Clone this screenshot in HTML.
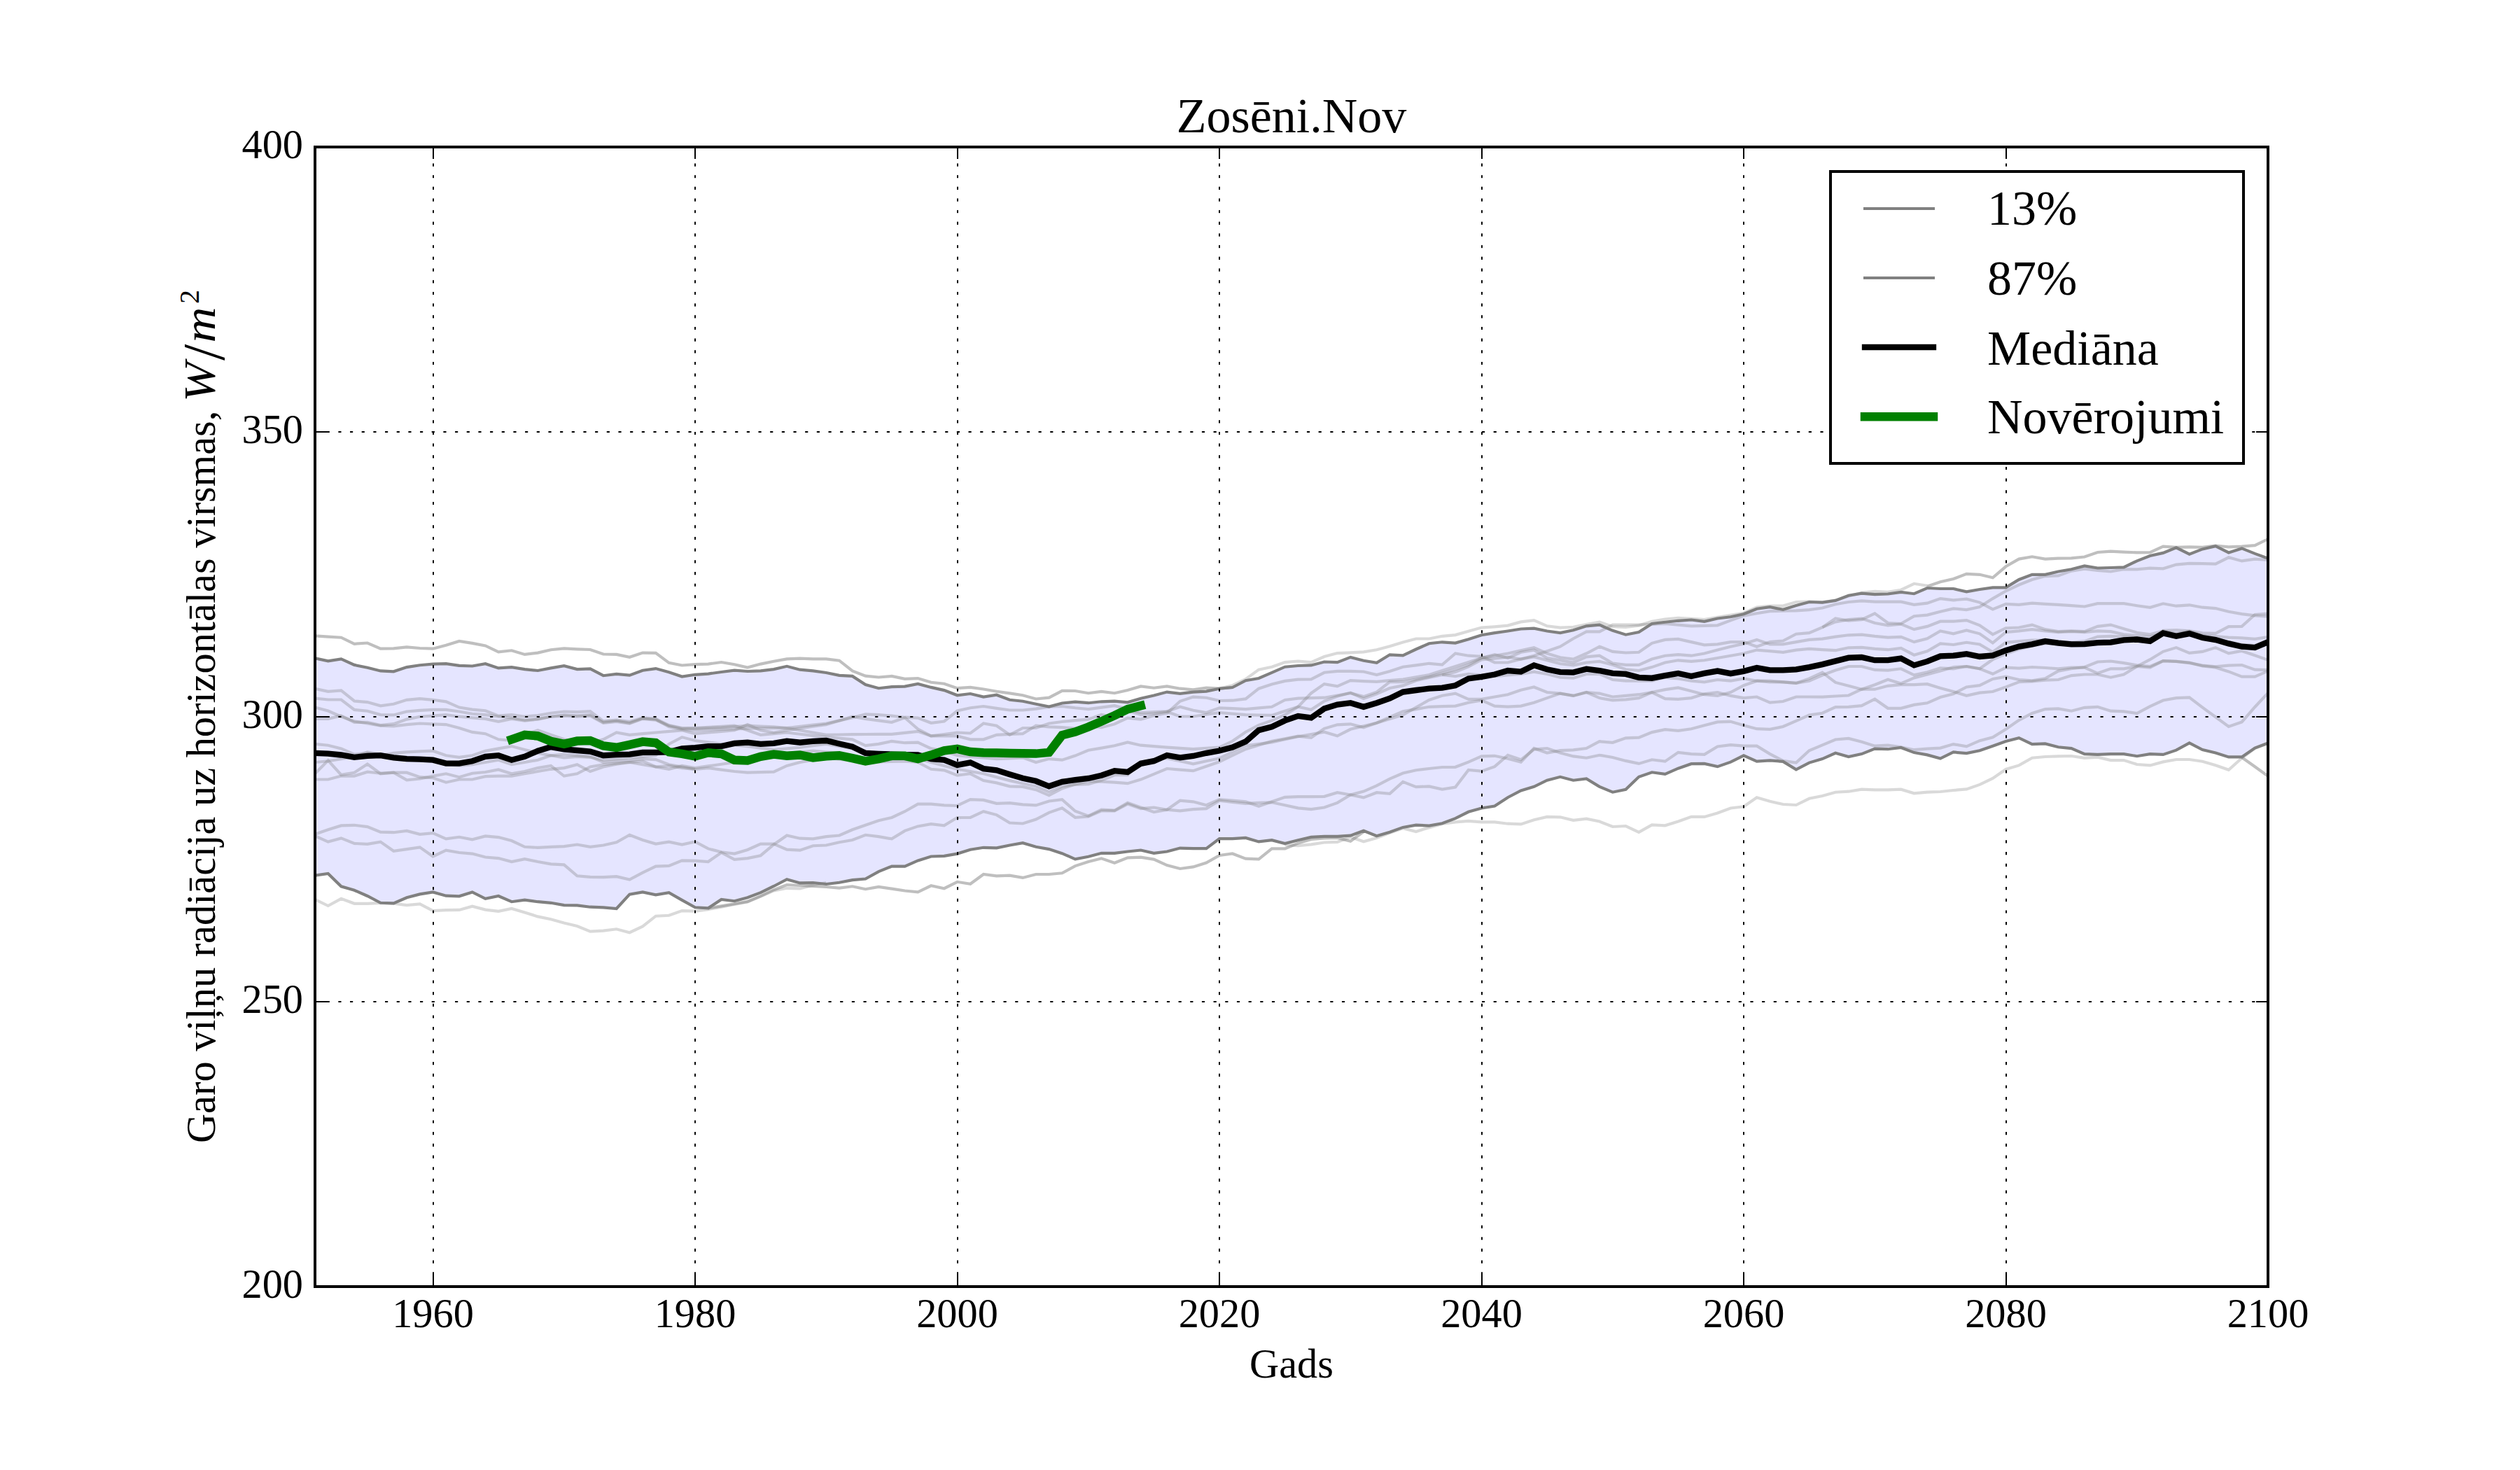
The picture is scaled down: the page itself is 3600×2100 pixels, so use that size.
<!DOCTYPE html>
<html lang="lv"><head><meta charset="utf-8"><title>Zosēni.Nov</title>
<style>html,body{margin:0;padding:0;background:#fff}svg{display:block}</style>
</head><body>
<svg width="3600" height="2100" viewBox="0 0 3600 2100">
<defs><clipPath id="ax"><rect x="450.0" y="210.0" width="2790.0" height="1627.5"/></clipPath></defs>
<rect width="3600" height="2100" fill="#fff"/>
<g clip-path="url(#ax)" fill="none" stroke-linejoin="miter" stroke-linecap="square">
<path d="M450 940.4 L468.7 944.3 L487.4 941.4 L506.2 949.9 L524.9 953.8 L543.6 958.4 L562.3 959.3 L581.1 953.1 L599.8 950.2 L618.5 948.6 L637.2 948.2 L656 950.9 L674.7 951.5 L693.4 948.2 L712.1 954.4 L730.9 953.1 L749.6 956.1 L768.3 958 L787 954.4 L805.8 951.2 L824.5 956.1 L843.2 955.4 L861.9 965.2 L880.7 962.9 L899.4 964.6 L918.1 957.7 L936.8 955.1 L955.6 960.3 L974.3 966.5 L993 963.8 L1011.7 962.6 L1030.5 960 L1049.2 957.7 L1067.9 959 L1086.6 958.4 L1105.4 956.1 L1124.1 951.8 L1142.8 956.7 L1161.5 958.4 L1180.3 961 L1199 964.9 L1217.7 965.9 L1236.4 978 L1255.2 983.2 L1273.9 981.2 L1292.6 980.6 L1311.3 977 L1330.1 981.9 L1348.8 986.1 L1367.5 993.3 L1386.2 991 L1405 995.6 L1423.7 992.7 L1442.4 999.8 L1461.1 1001.8 L1479.9 1005.7 L1498.6 1009.6 L1517.3 1004.5 L1536 1002.7 L1554.8 1004.2 L1573.5 1002.3 L1592.2 1001.6 L1610.9 1003.3 L1629.7 997.7 L1648.4 993.5 L1667.1 988.6 L1685.8 990.9 L1704.6 988.6 L1723.3 987.6 L1742 983.7 L1760.7 982 L1779.5 972.2 L1798.2 969 L1816.9 960.8 L1835.6 952.7 L1854.4 951 L1873.1 950.4 L1891.8 945.5 L1910.5 946.1 L1929.3 938.9 L1948 943.8 L1966.7 946.8 L1985.4 935.3 L2004.2 936.3 L2022.9 927.5 L2041.6 919.3 L2060.3 917.3 L2079.1 918.6 L2097.8 913.2 L2116.5 907.3 L2135.2 904.1 L2154 901.5 L2172.7 898.5 L2191.4 897.6 L2210.1 901.5 L2228.9 904.1 L2247.6 900.2 L2266.3 894.3 L2285 892.7 L2303.8 900.8 L2322.5 906.7 L2341.2 903.1 L2359.9 891 L2378.7 888.7 L2397.4 886.8 L2416.1 885.5 L2434.8 887.8 L2453.6 883.5 L2472.3 881.2 L2491 877.3 L2509.7 869.8 L2528.5 867.2 L2547.2 870.8 L2565.9 864.9 L2584.6 860 L2603.4 860.6 L2622.1 857.9 L2640.8 850.8 L2659.5 847.6 L2678.3 849.2 L2697 848.5 L2715.7 845.9 L2734.4 848.2 L2753.2 840 L2771.9 841 L2790.6 841 L2809.3 845.3 L2828.1 842 L2846.8 839.4 L2865.5 839.4 L2884.2 828 L2903 820.8 L2921.7 820.8 L2940.4 816.5 L2959.1 813.2 L2977.9 808.5 L2996.6 811.5 L3015.3 811 L3034 810.4 L3052.8 801.3 L3071.5 794 L3090.2 789.9 L3108.9 782.3 L3127.7 791.7 L3146.4 784.4 L3165.1 780.1 L3183.8 789.4 L3202.6 783.4 L3221.3 790.9 L3240 797.7 L3240 1061.4 L3221.3 1068.6 L3202.6 1081.4 L3183.8 1081.4 L3165.1 1075.6 L3146.4 1071 L3127.7 1061.4 L3108.9 1071.7 L3090.2 1077.9 L3071.5 1077.1 L3052.8 1080.2 L3034 1077.1 L3015.3 1077.1 L2996.6 1077.9 L2977.9 1077.1 L2959.1 1069.1 L2940.4 1067.3 L2921.7 1062.4 L2903 1063.1 L2884.2 1054.2 L2865.5 1059.1 L2846.8 1065.7 L2828.1 1072.2 L2809.3 1076.1 L2790.6 1074.5 L2771.9 1083.6 L2753.2 1078.4 L2734.4 1075.1 L2715.7 1068 L2697 1070.2 L2678.3 1069.6 L2659.5 1077.1 L2640.8 1081 L2622.1 1075.8 L2603.4 1084.1 L2584.6 1089.6 L2565.9 1099.3 L2547.2 1087.9 L2528.5 1086.3 L2509.7 1087.6 L2491 1079.4 L2472.3 1088.6 L2453.6 1095.1 L2434.8 1090.9 L2416.1 1091.2 L2397.4 1097.7 L2378.7 1105.9 L2359.9 1103.3 L2341.2 1109.8 L2322.5 1127.8 L2303.8 1131.7 L2285 1123.8 L2266.3 1112.4 L2247.6 1114.7 L2228.9 1109.8 L2210.1 1114.7 L2191.4 1123.8 L2172.7 1129.4 L2154 1139.2 L2135.2 1151.6 L2116.5 1154.5 L2097.8 1159.8 L2079.1 1169.2 L2060.3 1176.2 L2041.6 1179.6 L2022.9 1178.6 L2004.2 1181.9 L1985.4 1188.7 L1966.7 1194.3 L1948 1186.8 L1929.3 1193.6 L1910.5 1194.9 L1891.8 1194.9 L1873.1 1195.9 L1854.4 1200.2 L1835.6 1205.1 L1816.9 1200.2 L1798.2 1202.4 L1779.5 1196.9 L1760.7 1198.2 L1742 1198.2 L1723.3 1212.2 L1704.6 1212.2 L1685.8 1211.6 L1667.1 1216.5 L1648.4 1218.8 L1629.7 1214.5 L1610.9 1216.5 L1592.2 1218.8 L1573.5 1218.8 L1554.8 1223.7 L1536 1227.3 L1517.3 1219.2 L1498.6 1213.1 L1479.9 1209.8 L1461.1 1204.2 L1442.4 1207.5 L1423.7 1211.4 L1405 1210.8 L1386.2 1213.7 L1367.5 1219.6 L1348.8 1222.9 L1330.1 1223.5 L1311.3 1229.4 L1292.6 1237.6 L1273.9 1237.6 L1255.2 1245.1 L1236.4 1255.5 L1217.7 1257.1 L1199 1260.7 L1180.3 1263 L1161.5 1261.1 L1142.8 1261.4 L1124.1 1256.2 L1105.4 1266 L1086.6 1275.1 L1067.9 1282.3 L1049.2 1287.2 L1030.5 1284.9 L1011.7 1297.3 L993 1296.3 L974.3 1285.9 L955.6 1275.1 L936.8 1278.4 L918.1 1274.4 L899.4 1277.7 L880.7 1298 L861.9 1296.3 L843.2 1295.7 L824.5 1293.4 L805.8 1293.1 L787 1289.8 L768.3 1288.2 L749.6 1285.6 L730.9 1288.2 L712.1 1280 L693.4 1283.9 L674.7 1274.4 L656 1280.3 L637.2 1279.7 L618.5 1274.4 L599.8 1277.4 L581.1 1282.3 L562.3 1290.4 L543.6 1289.8 L524.9 1280 L506.2 1271.8 L487.4 1266.3 L468.7 1248 L450 1250.6Z" fill="#00f" fill-opacity="0.1" stroke="none"/>
<path d="M450 908.4 L468.7 909.7 L487.4 910.7 L506.2 919.8 L524.9 918.5 L543.6 926.7 L562.3 926.4 L581.1 924.4 L599.8 926 L618.5 926.7 L637.2 921.8 L656 915.9 L674.7 918.9 L693.4 922.4 L712.1 931.3 L730.9 929.3 L749.6 934.9 L768.3 932.6 L787 928.3 L805.8 926.4 L824.5 927.3 L843.2 928 L861.9 934.5 L880.7 934.9 L899.4 938.8 L918.1 932.6 L936.8 932.9 L955.6 946.9 L974.3 950.5 L993 949.2 L1011.7 948.6 L1030.5 946 L1049.2 949.2 L1067.9 953.5 L1086.6 948.6 L1105.4 944.7 L1124.1 941.4 L1142.8 940.7 L1161.5 941.4 L1180.3 941.4 L1199 943.7 L1217.7 958.4 L1236.4 965.6 L1255.2 967.5 L1273.9 965.9 L1292.6 969.8 L1311.3 969.1 L1330.1 974.7 L1348.8 976.7 L1367.5 983.2 L1386.2 981.9 L1405 984.5 L1423.7 987.8 L1442.4 990.4 L1461.1 993.3 L1479.9 998.5 L1498.6 996.6 L1517.3 986.9 L1536 987 L1554.8 990.2 L1573.5 987.9 L1592.2 990.2 L1610.9 986 L1629.7 980.4 L1648.4 982.7 L1667.1 980.4 L1685.8 983.7 L1704.6 985.3 L1723.3 982.7 L1742 983.7 L1760.7 982" stroke="#808080" stroke-opacity="0.5" stroke-width="4.17" stroke-linecap="butt"/>
<path d="M1742 983.5 L1760.7 979.2 L1779.5 970.2 L1798.2 956.6 L1816.9 952.7 L1835.6 946.1 L1854.4 944.5 L1873.1 946.1 L1891.8 938 L1910.5 933.1 L1929.3 932.4 L1948 931.4 L1966.7 928.2 L1985.4 923.3 L2004.2 917.4 L2022.9 912.5 L2041.6 912.5 L2060.3 908.8 L2079.1 907.1 L2097.8 901.8 L2116.5 896.6 L2135.2 895.3 L2154 893.6 L2172.7 888.4 L2191.4 886.1 L2210.1 894.3 L2228.9 896.6 L2247.6 895.9 L2266.3 892 L2285 888.7 L2303.8 895.3 L2322.5 895.9 L2341.2 893.6 L2359.9 887.8 L2378.7 884.5 L2397.4 882.9 L2416.1 883.8 L2434.8 885.1 L2453.6 881.9 L2472.3 878.9 L2491 875.7 L2509.7 867.5 L2528.5 865.6 L2547.2 865.6 L2565.9 860 L2584.6 859.3 L2603.4 860.3 L2622.1 857.5 L2640.8 851.5 L2659.5 846.9 L2678.3 844.9 L2697 845.9 L2715.7 842.7 L2734.4 833.8 L2753.2 836.8" stroke="#808080" stroke-opacity="0.3" stroke-width="4.17" stroke-linecap="butt"/>
<path d="M2753.2 837.8 L2771.9 831.2 L2790.6 827 L2809.3 819.8 L2828.1 820.8 L2846.8 825.3 L2865.5 809.3 L2884.2 798.6 L2903 795.3 L2921.7 798.6 L2940.4 797.6 L2959.1 797.3 L2977.9 795.5 L2996.6 789 L3015.3 787.7 L3034 788.6 L3052.8 789.4 L3071.5 789.1 L3090.2 780.7 L3108.9 781.8 L3127.7 781.3 L3146.4 781.8 L3165.1 779.5 L3183.8 781.4 L3202.6 780.6 L3221.3 779.1 L3240 770" stroke="#808080" stroke-opacity="0.5" stroke-width="4.17" stroke-linecap="butt"/>
<path d="M450 1284.9 L468.7 1294 L487.4 1283.9 L506.2 1290.8 L524.9 1290.8 L543.6 1289.8 L562.3 1290.8 L581.1 1293.1 L599.8 1291.4 L618.5 1301.2 L637.2 1300.2 L656 1299.9 L674.7 1294.7 L693.4 1299.6 L712.1 1301.9 L730.9 1298 L749.6 1303.5 L768.3 1309.4 L787 1313.3 L805.8 1318.5 L824.5 1323.1 L843.2 1330.6 L861.9 1329.6 L880.7 1327.3 L899.4 1332.2 L918.1 1323.4 L936.8 1308.7 L955.6 1307.8 L974.3 1301.1 L993 1301.7 L1011.7 1299.2 L1030.5 1295.6 L1049.2 1292 L1067.9 1288.5 L1086.6 1280.7 L1105.4 1272.4 L1124.1 1268.8 L1142.8 1269.4 L1161.5 1264.6 L1180.3 1261" stroke="#808080" stroke-opacity="0.3" stroke-width="4.17" stroke-linecap="butt"/>
<path d="M1011.7 1297.4 L1030.5 1294.4 L1049.2 1291.2 L1067.9 1287.9 L1086.6 1280.1 L1105.4 1271.2 L1124.1 1264 L1142.8 1265 L1161.5 1266 L1180.3 1267 L1199 1268.6 L1217.7 1266.3 L1236.4 1270.2 L1255.2 1266.9 L1273.9 1269.6 L1292.6 1272.5 L1311.3 1274.4 L1330.1 1265.3 L1348.8 1269.2 L1367.5 1259.8 L1386.2 1262.7 L1405 1249 L1423.7 1251.3 L1442.4 1250.6 L1461.1 1253.9 L1479.9 1249 L1498.6 1249 L1517.3 1247.3 L1536 1237.1 L1554.8 1230.9 L1573.5 1226.3 L1592.2 1232.8 L1610.9 1225.3 L1629.7 1224.7 L1648.4 1227.6 L1667.1 1236.1 L1685.8 1241 L1704.6 1238.4 L1723.3 1232.6 L1742 1221.9 L1760.7 1219.5 L1779.5 1226.7 L1798.2 1227.3 L1816.9 1212.4 L1835.6 1212.4 L1854.4 1204.6 L1873.1 1199 L1891.8 1197.5 L1910.5 1196.9 L1929.3 1201.7 L1948 1188" stroke="#808080" stroke-opacity="0.5" stroke-width="4.17" stroke-linecap="butt"/>
<path d="M1835.6 1207 L1854.4 1208.2 L1873.1 1206.4 L1891.8 1203.5 L1910.5 1202.9 L1929.3 1195.7 L1948 1202.3 L1966.7 1196.9 L1985.4 1189.8 L2004.2 1183.2 L2022.9 1188 L2041.6 1182.2 L2060.3 1177 L2079.1 1174.4 L2097.8 1172.8 L2116.5 1174.4 L2135.2 1174.4 L2154 1176.7 L2172.7 1177.4 L2191.4 1171.2 L2210.1 1166.9 L2228.9 1167.3 L2247.6 1171.8 L2266.3 1169.6 L2285 1173.5 L2303.8 1181 L2322.5 1180 L2341.2 1188.8 L2359.9 1178.4 L2378.7 1179.3 L2397.4 1173.5 L2416.1 1166.9 L2434.8 1166.9 L2453.6 1161.4 L2472.3 1154.5 L2491 1152.2 L2509.7 1139.2 L2528.5 1144.7 L2547.2 1149 L2565.9 1150 L2584.6 1140.8 L2603.4 1137 L2622.1 1131.7 L2640.8 1130.7 L2659.5 1127.7 L2678.3 1128.4 L2697 1128.4 L2715.7 1127.7 L2734.4 1133.3 L2753.2 1131.6 L2771.9 1131 L2790.6 1129 L2809.3 1127.4 L2828.1 1120.9 L2846.8 1112 L2865.5 1099 L2884.2 1093.4 L2903 1082.7 L2921.7 1081 L2940.4 1080.4 L2959.1 1080 L2977.9 1082.8 L2996.6 1081.7 L3015.3 1086.1 L3034 1086.1 L3052.8 1092 L3071.5 1093.4 L3090.2 1088.4 L3108.9 1085 L3127.7 1085 L3146.4 1087.8 L3165.1 1093.3 L3183.8 1099.8 L3202.6 1083 L3221.3 1069 L3240 1062" stroke="#808080" stroke-opacity="0.3" stroke-width="4.17" stroke-linecap="butt"/>
<path d="M3202.6 1082 L3221.3 1095.3 L3240 1108.8" stroke="#808080" stroke-opacity="0.5" stroke-width="4.17" stroke-linecap="butt"/>
<path d="M450 983.8 L468.7 987.8 L487.4 986.4 L506.2 1001.5 L524.9 1003.1 L543.6 1008.3 L562.3 1005.7 L581.1 999.8 L599.8 998.2 L618.5 999.8 L637.2 1002.4 L656 1010.6 L674.7 1013.6 L693.4 1015.2 L712.1 1022.7 L730.9 1021.1 L749.6 1023.7 L768.3 1022 L787 1018.8 L805.8 1016.5 L824.5 1017.1 L843.2 1016.2 L861.9 1030.2 L880.7 1028.6 L899.4 1030.9 L918.1 1025.3 L936.8 1026.9 L955.6 1036.1 L974.3 1040 L993 1040.7 L1011.7 1040 L1030.5 1039.3 L1049.2 1038 L1067.9 1036.7 L1086.6 1037.6 L1105.4 1038.4 L1124.1 1040 L1142.8 1037.8 L1161.5 1035.6 L1180.3 1033.5 L1199 1029.4 L1217.7 1025.3 L1236.4 1020.4 L1255.2 1021.1 L1273.9 1022.7 L1292.6 1024.7 L1311.3 1025.6 L1330.1 1032.8 L1348.8 1030.5 L1367.5 1015.5 L1386.2 1011.3 L1405 1009 L1423.7 1011.9 L1442.4 1014.5 L1461.1 1014.5 L1479.9 1012.6 L1498.6 1009.6 L1517.3 1009 L1536 1011.3 L1554.8 1013.1 L1573.5 1010.6 L1592.2 1008.2 L1610.9 1013.1 L1629.7 1018 L1648.4 1017.1 L1667.1 1016.3 L1685.8 1009.8 L1704.6 1014.7 L1723.3 1018 L1742 1011.4 L1760.7 1012.2 L1779.5 1013.1 L1798.2 1011.4 L1816.9 1009.8 L1835.6 1000 L1854.4 997.7 L1873.1 997.2 L1891.8 996.7 L1910.5 993.5 L1929.3 990.2 L1948 995.1 L1966.7 988.6 L1985.4 974.2 L2004.2 974.2 L2022.9 970.6 L2041.6 966.7 L2060.3 961.7 L2079.1 956.3 L2097.8 949.8 L2116.5 940 L2135.2 935.1 L2154 940 L2172.7 931.8 L2191.4 928.6 L2210.1 940 L2228.9 943.3 L2247.6 946.5 L2266.3 938.4 L2285 936.7 L2303.8 947.5 L2322.5 949.8 L2341.2 949.8 L2359.9 941.6 L2378.7 936.7 L2397.4 935.1 L2416.1 936.7 L2434.8 933.5 L2453.6 928.6 L2472.3 923.7 L2491 919.8 L2509.7 913.9 L2528.5 920.4 L2547.2 920.4 L2565.9 917.1 L2584.6 913.9 L2603.4 912.6 L2622.1 909.6 L2640.8 907.3 L2659.5 906.7 L2678.3 908.9 L2697 910.6 L2715.7 909.9 L2734.4 917.1 L2753.2 912.2 L2771.9 901.4 L2790.6 905.3 L2809.3 900.4 L2828.1 905.3 L2846.8 918.4 L2865.5 903.1 L2884.2 901.4 L2903 899.1 L2921.7 901.4 L2940.4 903.1 L2959.1 902.1 L2977.9 903.1 L2996.6 901.4 L3015.3 902.1 L3034 906.3 L3052.8 908 L3071.5 909.6 L3090.2 904.5 L3108.9 906.6 L3127.7 903.7 L3146.4 909.4 L3165.1 912.9 L3183.8 917.1 L3202.6 920.9 L3221.3 922 L3240 915.7" stroke="#808080" stroke-opacity="0.33" stroke-width="4.17" stroke-linecap="butt"/>
<path d="M450 997.6 L468.7 999.5 L487.4 999.5 L506.2 1013.9 L524.9 1015.8 L543.6 1021.1 L562.3 1021.4 L581.1 1016.5 L599.8 1014.9 L618.5 1013.9 L637.2 1013.9 L656 1016.5 L674.7 1019.8 L693.4 1021.1 L712.1 1023.7 L730.9 1025.3 L749.6 1028.6 L768.3 1026.9 L787 1023.7 L805.8 1021.4 L824.5 1022.4 L843.2 1021.1 L861.9 1031.8 L880.7 1029.6 L899.4 1032.8 L918.1 1026.3 L936.8 1027.6 L955.6 1038.4 L974.3 1042.3 L993 1043.3 L1011.7 1042.6 L1030.5 1042 L1049.2 1041.3 L1067.9 1040.7 L1086.6 1040.4 L1105.4 1040.2 L1124.1 1040 L1142.8 1043.3 L1161.5 1046.5 L1180.3 1049.8 L1199 1049.5 L1217.7 1049.1 L1236.4 1049 L1255.2 1048.9 L1273.9 1048.8 L1292.6 1046.9 L1311.3 1044.9 L1330.1 1051.4 L1348.8 1049 L1367.5 1046.5 L1386.2 1047.5 L1405 1033.5 L1423.7 1036.7 L1442.4 1049.8 L1461.1 1040 L1479.9 1040 L1498.6 1033.5 L1517.3 1031 L1536 1029.1 L1554.8 1027.6 L1573.5 1020.8 L1592.2 1024.9 L1610.9 1015.4 L1629.7 1020.8 L1648.4 1019.5 L1667.1 1016.7 L1685.8 1023.5 L1704.6 1023.5 L1723.3 1020.7 L1742 1018 L1760.7 1019.6 L1779.5 1021.2 L1798.2 1021.6 L1816.9 1021.9 L1835.6 1015.8 L1854.4 1009.8 L1873.1 990.2 L1891.8 977.1 L1910.5 980.4 L1929.3 972.2 L1948 973.1 L1966.7 973.9 L1985.4 972.2 L2004.2 970.6 L2022.9 967.3 L2041.6 964.1 L2060.3 958.1 L2079.1 952 L2097.8 946 L2116.5 940 L2135.2 936.7 L2154 933.5 L2172.7 929.4 L2191.4 925.3 L2210.1 933.5 L2228.9 939.3 L2247.6 941.6 L2266.3 933.5 L2285 923.7 L2303.8 930.9 L2322.5 932.5 L2341.2 931.8 L2359.9 918.8 L2378.7 913.9 L2397.4 912.9 L2416.1 917.1 L2434.8 921.4 L2453.6 920.4 L2472.3 917.1 L2491 917.1 L2509.7 923.7 L2528.5 917.1 L2547.2 915.5 L2565.9 905.7 L2584.6 904.1 L2603.4 896.2 L2622.1 883.5 L2640.8 886.7 L2659.5 885.1 L2678.3 876.3 L2697 890 L2715.7 891 L2734.4 880.2 L2753.2 878.6 L2771.9 873.7 L2790.6 869.4 L2809.3 871.1 L2828.1 867.1 L2846.8 855.1 L2865.5 844.3 L2884.2 835.5 L2903 828 L2921.7 823.1 L2940.4 822.4 L2959.1 815.6 L2977.9 812.6 L2996.6 814.9 L3015.3 816.5 L3034 813.3 L3052.8 813.3 L3071.5 811.6 L3090.2 812.3 L3108.9 806.6 L3127.7 804.9 L3146.4 805.1 L3165.1 805.7 L3183.8 796.3 L3202.6 801.4 L3221.3 798.6 L3240 800" stroke="#808080" stroke-opacity="0.33" stroke-width="4.17" stroke-linecap="butt"/>
<path d="M450 1010.6 L468.7 1015.5 L487.4 1023.7 L506.2 1030.2 L524.9 1033.5 L543.6 1036.7 L562.3 1037.4 L581.1 1035.1 L599.8 1033.5 L618.5 1034.4 L637.2 1035.1 L656 1040 L674.7 1045.9 L693.4 1048.2 L712.1 1056.3 L730.9 1058 L749.6 1049.8 L768.3 1043.3 L787 1049.8 L805.8 1056.3 L824.5 1059.6 L843.2 1061.2 L861.9 1056.3 L880.7 1046.5 L899.4 1049.8 L918.1 1048.2 L936.8 1046.5 L955.6 1044.9 L974.3 1043.3 L993 1048.2 L1011.7 1046.5 L1030.5 1044.9 L1049.2 1043.3 L1067.9 1035.1 L1086.6 1043.3 L1105.4 1046.5 L1124.1 1043.3 L1142.8 1040.5 L1161.5 1037.8 L1180.3 1035.1 L1199 1029.4 L1217.7 1023.7 L1236.4 1026.9 L1255.2 1029.4 L1273.9 1031.8 L1292.6 1025.3 L1311.3 1041.6 L1330.1 1051.4 L1348.8 1051.4 L1367.5 1051.4 L1386.2 1056.3 L1405 1056.3 L1423.7 1049.8 L1442.4 1048.8 L1461.1 1048.2 L1479.9 1036.7 L1498.6 1038.4 L1517.3 1039.2 L1536 1040.6 L1554.8 1037.1 L1573.5 1039.2 L1592.2 1034.4 L1610.9 1025.6 L1629.7 1027.6 L1648.4 1022.2 L1667.1 1018.8 L1685.8 1001.8 L1704.6 995.6 L1723.3 996.7 L1742 1001 L1760.7 1000.7 L1779.5 998.4 L1798.2 983.7 L1816.9 977.5 L1835.6 972.9 L1854.4 970.6 L1873.1 970.3 L1891.8 960.8 L1910.5 958.9 L1929.3 958.9 L1948 959.5 L1966.7 964.1 L1985.4 958.9 L2004.2 952.7 L2022.9 950.4 L2041.6 947.8 L2060.3 949.6 L2079.1 933.5 L2097.8 936.7 L2116.5 937.7 L2135.2 946.5 L2154 946.5 L2172.7 941.6 L2191.4 936.7 L2210.1 930.2 L2228.9 923.7 L2247.6 912.2 L2266.3 902.4 L2285 902.4 L2303.8 892.7 L2322.5 892.7 L2341.2 892.7 L2359.9 891.8 L2378.7 891 L2397.4 892.7 L2416.1 894.3 L2434.8 893.8 L2453.6 893.3 L2472.3 886.4 L2491 879.6 L2509.7 876.3 L2528.5 873.1 L2547.2 872.7 L2565.9 872.4 L2584.6 871.1 L2603.4 868.5 L2622.1 863.2 L2640.8 860 L2659.5 858.3 L2678.3 859.6 L2697 859.6 L2715.7 859.6 L2734.4 863.9 L2753.2 861.6 L2771.9 855.1 L2790.6 857.3 L2809.3 855.7 L2828.1 860.6 L2846.8 870.4 L2865.5 862.9 L2884.2 863.9 L2903 861.6 L2921.7 862.9 L2940.4 863.9 L2959.1 865.2 L2977.9 866.5 L2996.6 862.2 L3015.3 862.2 L3034 862.2 L3052.8 865.2 L3071.5 867.8 L3090.2 862.3 L3108.9 865.7 L3127.7 864.3 L3146.4 867.7 L3165.1 869.1 L3183.8 873.7 L3202.6 877.1 L3221.3 879.4 L3240 880.6" stroke="#808080" stroke-opacity="0.33" stroke-width="4.17" stroke-linecap="butt"/>
<path d="M450 1026.9 L468.7 1026.9 L487.4 1022.4 L506.2 1031.8 L524.9 1031.8 L543.6 1036.1 L562.3 1034.1 L581.1 1027.6 L599.8 1023.7 L618.5 1022.7 L637.2 1021.1 L656 1023.7 L674.7 1025.3 L693.4 1026.9 L712.1 1030.9 L730.9 1026.9 L749.6 1029.6 L768.3 1027.6 L787 1023.7 L805.8 1022.7 L824.5 1023.7 L843.2 1022.7 L861.9 1032.8 L880.7 1030.9 L899.4 1033.5 L918.1 1026.9 L936.8 1028.6 L955.6 1036.7 L974.3 1040.7 L993 1040 L1011.7 1038.9 L1030.5 1037.8 L1049.2 1036.7 L1067.9 1043.3 L1086.6 1049.8 L1105.4 1048.2 L1124.1 1046.5 L1142.8 1048.7 L1161.5 1050.9 L1180.3 1053.1 L1199 1054.7 L1217.7 1056.3 L1236.4 1065.1 L1255.2 1062.9 L1273.9 1058.9 L1292.6 1061.2 L1311.3 1060.6 L1330.1 1069.4 L1348.8 1072.7 L1367.5 1079.2 L1386.2 1080.8 L1405 1082.4 L1423.7 1084.1 L1442.4 1083.3 L1461.1 1082.4 L1479.9 1089 L1498.6 1084.1 L1517.3 1085.7 L1536 1079.6 L1554.8 1071.8 L1573.5 1068.6 L1592.2 1065.3 L1610.9 1060.4 L1629.7 1064.7 L1648.4 1066.1 L1667.1 1067.6 L1685.8 1068.9 L1704.6 1070.2 L1723.3 1068.9 L1742 1067.6 L1760.7 1058.8 L1779.5 1045.7 L1798.2 1035.9 L1816.9 1029.4 L1835.6 1021.2 L1854.4 1009.8 L1873.1 1013.7 L1891.8 1001.6 L1910.5 994.8 L1929.3 989.6 L1948 998 L1966.7 991.2 L1985.4 983 L2004.2 979.4 L2022.9 972.2 L2041.6 968 L2060.3 964 L2079.1 959.9 L2097.8 952.4 L2116.5 942.3 L2135.2 940.7 L2154 938.7 L2172.7 941.6 L2191.4 938.4 L2210.1 943.3 L2228.9 948.2 L2247.6 950.4 L2266.3 946.5 L2285 944.9 L2303.8 949.8 L2322.5 956.3 L2341.2 958 L2359.9 953.1 L2378.7 946.5 L2397.4 943.3 L2416.1 944.9 L2434.8 943.3 L2453.6 940 L2472.3 936.7 L2491 933.5 L2509.7 928.6 L2528.5 930.2 L2547.2 931.8 L2565.9 928.6 L2584.6 926.9 L2603.4 928.1 L2622.1 929.2 L2640.8 925.3 L2659.5 924.9 L2678.3 926.9 L2697 928.2 L2715.7 925.9 L2734.4 935.7 L2753.2 930.2 L2771.9 919.4 L2790.6 921 L2809.3 917.8 L2828.1 920.4 L2846.8 931.5 L2865.5 917.8 L2884.2 916.1 L2903 914.5 L2921.7 914.5 L2940.4 916.1 L2959.1 917.8 L2977.9 918.7 L2996.6 916.1 L3015.3 915.5 L3034 912.9 L3052.8 912.2 L3071.5 914.5 L3090.2 900.8 L3108.9 900 L3127.7 901.4 L3146.4 904.3 L3165.1 904.9 L3183.8 895.1 L3202.6 894.9 L3221.3 878 L3240 876.6" stroke="#808080" stroke-opacity="0.33" stroke-width="4.17" stroke-linecap="butt"/>
<path d="M450 1062.9 L468.7 1064.8 L487.4 1069.4 L506.2 1077.6 L524.9 1075.9 L543.6 1079.2 L562.3 1075.9 L581.1 1074.3 L599.8 1073.3 L618.5 1072.7 L637.2 1079.2 L656 1081.8 L674.7 1079.2 L693.4 1072.7 L712.1 1069.4 L730.9 1066.1 L749.6 1071 L768.3 1075.9 L787 1079.2 L805.8 1082.4 L824.5 1080.8 L843.2 1081.8 L861.9 1085.7 L880.7 1084.1 L899.4 1082.4 L918.1 1080.8 L936.8 1079.2 L955.6 1062.9 L974.3 1053.1 L993 1058 L1011.7 1060.4 L1030.5 1062.9 L1049.2 1064.5 L1067.9 1066.1 L1086.6 1068.6 L1105.4 1071 L1124.1 1069.4 L1142.8 1067.8 L1161.5 1065.3 L1180.3 1062.9 L1199 1066.1 L1217.7 1069.4 L1236.4 1072.7 L1255.2 1075.9 L1273.9 1077.6 L1292.6 1079.2 L1311.3 1084.1 L1330.1 1089 L1348.8 1093.9 L1367.5 1098.8 L1386.2 1102 L1405 1105.3 L1423.7 1110.2 L1442.4 1115.1 L1461.1 1119.2 L1479.9 1123.3 L1498.6 1131.4 L1517.3 1123.3 L1536 1120.8 L1554.8 1120.1 L1573.5 1114.7 L1592.2 1107.2 L1610.9 1107.2 L1629.7 1088.8 L1648.4 1085.4 L1667.1 1083.3 L1685.8 1087.3 L1704.6 1091.4 L1723.3 1087.3 L1742 1083.3 L1760.7 1074.3 L1779.5 1065.3 L1798.2 1062.9 L1816.9 1060.4 L1835.6 1056.3 L1854.4 1052.2 L1873.1 1049 L1891.8 1045.7 L1910.5 1051.3 L1929.3 1041.8 L1948 1037.2 L1966.7 1032.7 L1985.4 1024.5 L2004.2 1016.3 L2022.9 1013.1 L2041.6 1009.8 L2060.3 1009.2 L2079.1 1008.6 L2097.8 1003.7 L2116.5 1000.4 L2135.2 1008.6 L2154 1009.6 L2172.7 1008.6 L2191.4 1003.7 L2210.1 997.1 L2228.9 990.6 L2247.6 993.9 L2266.3 989 L2285 997.1 L2303.8 1000.4 L2322.5 999.4 L2341.2 997.1 L2359.9 989 L2378.7 998.1 L2397.4 998.8 L2416.1 997.1 L2434.8 991.3 L2453.6 989 L2472.3 993.9 L2491 997.1 L2509.7 995.5 L2528.5 1003.7 L2547.2 1002 L2565.9 995.5 L2584.6 995.5 L2603.4 995.7 L2622.1 994.5 L2640.8 993.5 L2659.5 984.7 L2678.3 978.2 L2697 970.7 L2715.7 976.5 L2734.4 968.4 L2753.2 963.5 L2771.9 958.6 L2790.6 953 L2809.3 952 L2828.1 955.3 L2846.8 942.2 L2865.5 934.1 L2884.2 927.6 L2903 922.7 L2921.7 919.4 L2940.4 919.4 L2959.1 917.8 L2977.9 916.1 L2996.6 909.6 L3015.3 908.9 L3034 909.6 L3052.8 911.2 L3071.5 914.5 L3090.2 904.5" stroke="#808080" stroke-opacity="0.33" stroke-width="4.17" stroke-linecap="butt"/>
<path d="M450 1089 L468.7 1087.3 L487.4 1084.1 L506.2 1080.8 L524.9 1074.3 L543.6 1077.6 L562.3 1079.8 L581.1 1081.8 L599.8 1084.1 L618.5 1085.7 L637.2 1092.2 L656 1093.9 L674.7 1092.2 L693.4 1089 L712.1 1085.7 L730.9 1092.2 L749.6 1089 L768.3 1085.7 L787 1079.2 L805.8 1077.6 L824.5 1079.2 L843.2 1080.8 L861.9 1089 L880.7 1087.3 L899.4 1086.4 L918.1 1084.1 L936.8 1085.1 L955.6 1092.2 L974.3 1095.5 L993 1098.8 L1011.7 1097.1 L1030.5 1099.6 L1049.2 1102 L1067.9 1103.7 L1086.6 1103.2 L1105.4 1102.7 L1124.1 1093.9 L1142.8 1089 L1161.5 1085.7 L1180.3 1082.4 L1199 1084.6 L1217.7 1086.8 L1236.4 1089 L1255.2 1088.4 L1273.9 1087.9 L1292.6 1087.3 L1311.3 1089 L1330.1 1098.8 L1348.8 1100.4 L1367.5 1107.6 L1386.2 1105.3 L1405 1115.1 L1423.7 1118.4 L1442.4 1123.3 L1461.1 1123.9 L1479.9 1128.2 L1498.6 1136.3 L1517.3 1126.5 L1536 1120.4 L1554.8 1115.9 L1573.5 1116.7 L1592.2 1117.6 L1610.9 1119.2 L1629.7 1113.6 L1648.4 1105.8 L1667.1 1098 L1685.8 1099.6 L1704.6 1101.2 L1723.3 1094.7 L1742 1088.2 L1760.7 1079.2 L1779.5 1070.2 L1798.2 1064.5 L1816.9 1058.8 L1835.6 1055.2 L1854.4 1051.6 L1873.1 1053.9 L1891.8 1040.8 L1910.5 1035.3 L1929.3 1034.3 L1948 1039.2 L1966.7 1032.7 L1985.4 1026.9 L2004.2 1021.2 L2022.9 1010.6 L2041.6 1000 L2060.3 993.7 L2079.1 990.6 L2097.8 998.8 L2116.5 998.8 L2135.2 995.5 L2154 992.2 L2172.7 985.7 L2191.4 981.5 L2210.1 989 L2228.9 990.6 L2247.6 993.9 L2266.3 989 L2285 990.6 L2303.8 995.5 L2322.5 993.9 L2341.2 992.2 L2359.9 989 L2378.7 985.1 L2397.4 982.4 L2416.1 987.3 L2434.8 992.2 L2453.6 993.9 L2472.3 989 L2491 979.2 L2509.7 972.7 L2528.5 972.7 L2547.2 974.3 L2565.9 975.9 L2584.6 969.4 L2603.4 960.7 L2622.1 974.9 L2640.8 979.8 L2659.5 984.7 L2678.3 984.7 L2697 979.8 L2715.7 978.2 L2734.4 978.2 L2753.2 977.2 L2771.9 983.1 L2790.6 988 L2809.3 993.8 L2828.1 989.6 L2846.8 988 L2865.5 981.4 L2884.2 974.2 L2903 973.3 L2921.7 971.6 L2940.4 971 L2959.1 965.1 L2977.9 963.5 L2996.6 963.5 L3015.3 967.7 L3034 963.5 L3052.8 952 L3071.5 942.2 L3090.2 930.8 L3108.9 925.1 L3127.7 932.9 L3146.4 930.9 L3165.1 925.1 L3183.8 933.4 L3202.6 930 L3221.3 936.3 L3240 942.9" stroke="#808080" stroke-opacity="0.33" stroke-width="4.17" stroke-linecap="butt"/>
<path d="M450 1105.3 L468.7 1086.4 L487.4 1106.9 L506.2 1103.7 L524.9 1091.6 L543.6 1105.3 L562.3 1103.7 L581.1 1114.4 L599.8 1112.5 L618.5 1108.6 L637.2 1105.3 L656 1110.2 L674.7 1104.7 L693.4 1103 L712.1 1099.4 L730.9 1105.3 L749.6 1102 L768.3 1097.1 L787 1093.9 L805.8 1108.6 L824.5 1105.3 L843.2 1095.5 L861.9 1092.2 L880.7 1090.6 L899.4 1089 L918.1 1092.2 L936.8 1095.5 L955.6 1093.9 L974.3 1097.1 L993 1098.8" stroke="#808080" stroke-opacity="0.33" stroke-width="4.17" stroke-linecap="butt"/>
<path d="M450 1113.5 L468.7 1113.5 L487.4 1108.6 L506.2 1108.6 L524.9 1102.7 L543.6 1104.7 L562.3 1103.7 L581.1 1103.7 L599.8 1110.2 L618.5 1111.2 L637.2 1117.7 L656 1113.5 L674.7 1113.5 L693.4 1109.2 L712.1 1108.6 L730.9 1108.6 L749.6 1105.3 L768.3 1102 L787 1098.8 L805.8 1097.1 L824.5 1092.2 L843.2 1102 L861.9 1095.5 L880.7 1091.6 L899.4 1089 L918.1 1087.3 L936.8 1095.5 L955.6 1098.8 L974.3 1093.9 L993 1097.1 L1011.7 1094.4 L1030.5 1091.7 L1049.2 1089 L1067.9 1086.5 L1086.6 1084.1 L1105.4 1080 L1124.1 1075.9 L1142.8 1074.3 L1161.5 1072.7 L1180.3 1074.3 L1199 1075.9 L1217.7 1080.8 L1236.4 1085.7 L1255.2 1084.9 L1273.9 1084.1 L1292.6 1084.1 L1311.3 1084.1 L1330.1 1085.7 L1348.8 1087.3 L1367.5 1092.9 L1386.2 1089.3 L1405 1098.1 L1423.7 1100.4 L1442.4 1106.3 L1461.1 1111.8 L1479.9 1115.8 L1498.6 1123.3 L1517.3 1116.7" stroke="#808080" stroke-opacity="0.33" stroke-width="4.17" stroke-linecap="butt"/>
<path d="M450 1191.8 L468.7 1185.3 L487.4 1179.4 L506.2 1178.8 L524.9 1181.1 L543.6 1188.6 L562.3 1189.2 L581.1 1186.9 L599.8 1191.8 L618.5 1190.2 L637.2 1198.4 L656 1195.8 L674.7 1199.3 L693.4 1194.4 L712.1 1196.1 L730.9 1201 L749.6 1209.8 L768.3 1210.8 L787 1209.8 L805.8 1209.1 L824.5 1206.5 L843.2 1209.8 L861.9 1207.5 L880.7 1203.3 L899.4 1192.8 L918.1 1200 L936.8 1205.6 L955.6 1202.6 L974.3 1206.5 L993 1202.4 L1011.7 1212.4 L1030.5 1217.3 L1049.2 1219.6 L1067.9 1214 L1086.6 1205.6 L1105.4 1205.6 L1124.1 1213.7 L1142.8 1214.7 L1161.5 1208.2 L1180.3 1207.5 L1199 1203.3 L1217.7 1200 L1236.4 1192.8 L1255.2 1195.1 L1273.9 1198.4 L1292.6 1186.9 L1311.3 1180.4 L1330.1 1177.1 L1348.8 1179.4 L1367.5 1168 L1386.2 1168 L1405 1159.2 L1423.7 1164.1 L1442.4 1175.5 L1461.1 1176.5 L1479.9 1170.6 L1498.6 1160.8 L1517.3 1154.3 L1536 1167.8 L1554.8 1166.5 L1573.5 1158.4 L1592.2 1158.4 L1610.9 1148.6 L1629.7 1155.1 L1648.4 1153.5 L1667.1 1156.7 L1685.8 1158.4 L1704.6 1156.1 L1723.3 1155.1 L1742 1143.7 L1760.7 1146 L1779.5 1147.9 L1798.2 1146.9 L1816.9 1146.3 L1835.6 1150.2 L1854.4 1154.4 L1873.1 1156.1 L1891.8 1153.5 L1910.5 1146.9 L1929.3 1135.5 L1948 1130.6 L1966.7 1122.4 L1985.4 1112.7 L2004.2 1104.5 L2022.9 1100.2 L2041.6 1098 L2060.3 1096 L2079.1 1095.8 L2097.8 1088.6 L2116.5 1080.4 L2135.2 1079.8 L2154 1083.7 L2172.7 1088.6 L2191.4 1069 L2210.1 1075.5 L2228.9 1072.2 L2247.6 1071.3 L2266.3 1069 L2285 1059.2 L2303.8 1060.8 L2322.5 1054.3 L2341.2 1053.6 L2359.9 1046.1 L2378.7 1042.2 L2397.4 1043.8 L2416.1 1041.2 L2434.8 1036.3 L2453.6 1031.4 L2472.3 1030.8 L2491 1036.3 L2509.7 1041.2 L2528.5 1041.9 L2547.2 1038 L2565.9 1029.8 L2584.6 1021.6 L2603.4 1018.7 L2622.1 1010.2 L2640.8 1009.8 L2659.5 1008.2 L2678.3 998.7 L2697 1011.8 L2715.7 1011.8 L2734.4 1006.9 L2753.2 1004.3 L2771.9 996.1 L2790.6 991.2 L2809.3 981.4 L2828.1 979.1 L2846.8 970 L2865.5 966.7 L2884.2 971 L2903 972.3 L2921.7 969.3 L2940.4 958.6 L2959.1 955.3 L2977.9 953 L2996.6 945.5 L3015.3 944.5 L3034 947.1 L3052.8 950.4 L3071.5 952 L3090.2 944.1 L3108.9 944.9 L3127.7 946.6 L3146.4 951.4 L3165.1 953.4 L3183.8 959.4 L3202.6 966.6 L3221.3 966.6 L3240 958.6" stroke="#808080" stroke-opacity="0.33" stroke-width="4.17" stroke-linecap="butt"/>
<path d="M450 1194.1 L468.7 1202.6 L487.4 1197.4 L506.2 1204.9 L524.9 1205.9 L543.6 1202.6 L562.3 1215.7 L581.1 1213.1 L599.8 1210.4 L618.5 1223.5 L637.2 1214.7 L656 1218 L674.7 1219.6 L693.4 1224.5 L712.1 1226.1 L730.9 1231 L749.6 1227.1 L768.3 1231 L787 1234.3 L805.8 1235.3 L824.5 1251.3 L843.2 1252.9 L861.9 1253.2 L880.7 1252.2 L899.4 1256.5 L918.1 1246.7 L936.8 1237.6 L955.6 1236.9 L974.3 1229.4 L993 1229.7 L1011.7 1231 L1030.5 1218 L1049.2 1227.8 L1067.9 1226.1 L1086.6 1222.2 L1105.4 1206.5 L1124.1 1193.5 L1142.8 1197.7 L1161.5 1198.4 L1180.3 1195.1 L1199 1193.5 L1217.7 1185.3 L1236.4 1178.8 L1255.2 1172.2 L1273.9 1168 L1292.6 1159.2 L1311.3 1148.7 L1330.1 1148.7 L1348.8 1150.4 L1367.5 1151 L1386.2 1142.2 L1405 1142.9 L1423.7 1147.8 L1442.4 1147.1 L1461.1 1149.4 L1479.9 1150.4 L1498.6 1144.5 L1517.3 1142.2 L1536 1158.8 L1554.8 1165.6 L1573.5 1156.7 L1592.2 1157.7 L1610.9 1146.9 L1629.7 1153.5 L1648.4 1160 L1667.1 1156.7 L1685.8 1143.7 L1704.6 1145.3 L1723.3 1150.2 L1742 1142 L1760.7 1143.7 L1779.5 1145.3 L1798.2 1151.8 L1816.9 1145.3 L1835.6 1138.8 L1854.4 1138.1 L1873.1 1138.1 L1891.8 1137.8 L1910.5 1132.2 L1929.3 1135.5 L1948 1139.4 L1966.7 1132.2 L1985.4 1133.9 L2004.2 1116.9 L2022.9 1124.1 L2041.6 1123.4 L2060.3 1127.6 L2079.1 1124.5 L2097.8 1100 L2116.5 1101.6 L2135.2 1095.1 L2154 1078.8 L2172.7 1085.3 L2191.4 1070.6 L2210.1 1069 L2228.9 1075.5 L2247.6 1080.4 L2266.3 1082.7 L2285 1078.8 L2303.8 1082 L2322.5 1086.9 L2341.2 1090.9 L2359.9 1085.3 L2378.7 1087.6 L2397.4 1074.9 L2416.1 1077.1 L2434.8 1077.8 L2453.6 1066.4 L2472.3 1064.1 L2491 1065.7 L2509.7 1065.7 L2528.5 1077.1 L2547.2 1086.9 L2565.9 1089.6 L2584.6 1072.2 L2603.4 1064.4 L2622.1 1056.5 L2640.8 1054.9 L2659.5 1059.8 L2678.3 1065.7 L2697 1064.7 L2715.7 1067.3 L2734.4 1071.2 L2753.2 1069.6 L2771.9 1068.6 L2790.6 1063.1 L2809.3 1066.3 L2828.1 1058.2 L2846.8 1053.3 L2865.5 1041.8 L2884.2 1028.8 L2903 1019 L2921.7 1013.1 L2940.4 1012.4 L2959.1 1015.7 L2977.9 1010.8 L2996.6 1009.8 L3015.3 1015.7 L3034 1016.4 L3052.8 1019 L3071.5 1009.2 L3090.2 1000.5 L3108.9 997.1 L3127.7 996.3 L3146.4 1010.6 L3165.1 1024.3 L3183.8 1038 L3202.6 1031.4 L3221.3 1010 L3240 990" stroke="#808080" stroke-opacity="0.33" stroke-width="4.17" stroke-linecap="butt"/>
<path d="M2060.3 964 L2079.1 966.1 L2097.8 962.9 L2116.5 964.5 L2135.2 966.1 L2154 964.5 L2172.7 962.9 L2191.4 959.6 L2210.1 962.9 L2228.9 967.8 L2247.6 968.7 L2266.3 962.9 L2285 962.9 L2303.8 971 L2322.5 972.7 L2341.2 972.7 L2359.9 972.7 L2378.7 967.8 L2397.4 969.4 L2416.1 972.7 L2434.8 974.3 L2453.6 971 L2472.3 972.7 L2491 969.4 L2509.7 972.7 L2528.5 974.3 L2547.2 974.3 L2565.9 975.9 L2584.6 972.7 L2603.4 964.5 L2622.1 957.6 L2640.8 952 L2659.5 952 L2678.3 956.9 L2697 957.6 L2715.7 955.3 L2734.4 964.4 L2753.2 960.2 L2771.9 954.3 L2790.6 955.3 L2809.3 952 L2828.1 955.3 L2846.8 962.8 L2865.5 953.7 L2884.2 954.7 L2903 953 L2921.7 954 L2940.4 955.3 L2959.1 953.7 L2977.9 953.7 L2996.6 961.8 L3015.3 955.3 L3034 955.3 L3052.8 952 L3071.5 953.7 L3090.2 944.1 L3108.9 944.9 L3127.7 947.1 L3146.4 950.6 L3165.1 952.3 L3183.8 950.6 L3202.6 950 L3221.3 956.6 L3240 957.1" stroke="#808080" stroke-opacity="0.33" stroke-width="4.17" stroke-linecap="butt"/>
<path d="M2603.4 896.2 L2622.1 888.4 L2640.8 885.1 L2659.5 883.5 L2678.3 890 L2697 893.3 L2715.7 891.6 L2734.4 899.1 L2753.2 894.9 L2771.9 887.7 L2790.6 887.7 L2809.3 886.1 L2828.1 893.3 L2846.8 906.3 L2865.5 897.2 L2884.2 896.5 L2903 892.6 L2921.7 899.1 L2940.4 902.1 L2959.1 901.4 L2977.9 902.1 L2996.6 894.9 L3015.3 892.6 L3034 898.2 L3052.8 903.7 L3071.5 906.3 L3090.2 901.4 L3108.9 904.9 L3127.7 901.4 L3146.4 907.7 L3165.1 909.1 L3183.8 910.6 L3202.6 911.4 L3221.3 912.9 L3240 910" stroke="#808080" stroke-opacity="0.33" stroke-width="4.17" stroke-linecap="butt"/>
<path d="M450 1250.6 L468.7 1248 L487.4 1266.3 L506.2 1271.8 L524.9 1280 L543.6 1289.8 L562.3 1290.4 L581.1 1282.3 L599.8 1277.4 L618.5 1274.4 L637.2 1279.7 L656 1280.3 L674.7 1274.4 L693.4 1283.9 L712.1 1280 L730.9 1288.2 L749.6 1285.6 L768.3 1288.2 L787 1289.8 L805.8 1293.1 L824.5 1293.4 L843.2 1295.7 L861.9 1296.3 L880.7 1298 L899.4 1277.7 L918.1 1274.4 L936.8 1278.4 L955.6 1275.1 L974.3 1285.9 L993 1296.3 L1011.7 1297.3 L1030.5 1284.9 L1049.2 1287.2 L1067.9 1282.3 L1086.6 1275.1 L1105.4 1266 L1124.1 1256.2 L1142.8 1261.4 L1161.5 1261.1 L1180.3 1263 L1199 1260.7 L1217.7 1257.1 L1236.4 1255.5 L1255.2 1245.1 L1273.9 1237.6 L1292.6 1237.6 L1311.3 1229.4 L1330.1 1223.5 L1348.8 1222.9 L1367.5 1219.6 L1386.2 1213.7 L1405 1210.8 L1423.7 1211.4 L1442.4 1207.5 L1461.1 1204.2 L1479.9 1209.8 L1498.6 1213.1 L1517.3 1219.2 L1536 1227.3 L1554.8 1223.7 L1573.5 1218.8 L1592.2 1218.8 L1610.9 1216.5 L1629.7 1214.5 L1648.4 1218.8 L1667.1 1216.5 L1685.8 1211.6 L1704.6 1212.2 L1723.3 1212.2 L1742 1198.2 L1760.7 1198.2 L1779.5 1196.9 L1798.2 1202.4 L1816.9 1200.2 L1835.6 1205.1 L1854.4 1200.2 L1873.1 1195.9 L1891.8 1194.9 L1910.5 1194.9 L1929.3 1193.6 L1948 1186.8 L1966.7 1194.3 L1985.4 1188.7 L2004.2 1181.9 L2022.9 1178.6 L2041.6 1179.6 L2060.3 1176.2 L2079.1 1169.2 L2097.8 1159.8 L2116.5 1154.5 L2135.2 1151.6 L2154 1139.2 L2172.7 1129.4 L2191.4 1123.8 L2210.1 1114.7 L2228.9 1109.8 L2247.6 1114.7 L2266.3 1112.4 L2285 1123.8 L2303.8 1131.7 L2322.5 1127.8 L2341.2 1109.8 L2359.9 1103.3 L2378.7 1105.9 L2397.4 1097.7 L2416.1 1091.2 L2434.8 1090.9 L2453.6 1095.1 L2472.3 1088.6 L2491 1079.4 L2509.7 1087.6 L2528.5 1086.3 L2547.2 1087.9 L2565.9 1099.3 L2584.6 1089.6 L2603.4 1084.1 L2622.1 1075.8 L2640.8 1081 L2659.5 1077.1 L2678.3 1069.6 L2697 1070.2 L2715.7 1068 L2734.4 1075.1 L2753.2 1078.4 L2771.9 1083.6 L2790.6 1074.5 L2809.3 1076.1 L2828.1 1072.2 L2846.8 1065.7 L2865.5 1059.1 L2884.2 1054.2 L2903 1063.1 L2921.7 1062.4 L2940.4 1067.3 L2959.1 1069.1 L2977.9 1077.1 L2996.6 1077.9 L3015.3 1077.1 L3034 1077.1 L3052.8 1080.2 L3071.5 1077.1 L3090.2 1077.9 L3108.9 1071.7 L3127.7 1061.4 L3146.4 1071 L3165.1 1075.6 L3183.8 1081.4 L3202.6 1081.4 L3221.3 1068.6 L3240 1061.4" stroke="#808080" stroke-width="4.17"/>
<path d="M450 940.4 L468.7 944.3 L487.4 941.4 L506.2 949.9 L524.9 953.8 L543.6 958.4 L562.3 959.3 L581.1 953.1 L599.8 950.2 L618.5 948.6 L637.2 948.2 L656 950.9 L674.7 951.5 L693.4 948.2 L712.1 954.4 L730.9 953.1 L749.6 956.1 L768.3 958 L787 954.4 L805.8 951.2 L824.5 956.1 L843.2 955.4 L861.9 965.2 L880.7 962.9 L899.4 964.6 L918.1 957.7 L936.8 955.1 L955.6 960.3 L974.3 966.5 L993 963.8 L1011.7 962.6 L1030.5 960 L1049.2 957.7 L1067.9 959 L1086.6 958.4 L1105.4 956.1 L1124.1 951.8 L1142.8 956.7 L1161.5 958.4 L1180.3 961 L1199 964.9 L1217.7 965.9 L1236.4 978 L1255.2 983.2 L1273.9 981.2 L1292.6 980.6 L1311.3 977 L1330.1 981.9 L1348.8 986.1 L1367.5 993.3 L1386.2 991 L1405 995.6 L1423.7 992.7 L1442.4 999.8 L1461.1 1001.8 L1479.9 1005.7 L1498.6 1009.6 L1517.3 1004.5 L1536 1002.7 L1554.8 1004.2 L1573.5 1002.3 L1592.2 1001.6 L1610.9 1003.3 L1629.7 997.7 L1648.4 993.5 L1667.1 988.6 L1685.8 990.9 L1704.6 988.6 L1723.3 987.6 L1742 983.7 L1760.7 982 L1779.5 972.2 L1798.2 969 L1816.9 960.8 L1835.6 952.7 L1854.4 951 L1873.1 950.4 L1891.8 945.5 L1910.5 946.1 L1929.3 938.9 L1948 943.8 L1966.7 946.8 L1985.4 935.3 L2004.2 936.3 L2022.9 927.5 L2041.6 919.3 L2060.3 917.3 L2079.1 918.6 L2097.8 913.2 L2116.5 907.3 L2135.2 904.1 L2154 901.5 L2172.7 898.5 L2191.4 897.6 L2210.1 901.5 L2228.9 904.1 L2247.6 900.2 L2266.3 894.3 L2285 892.7 L2303.8 900.8 L2322.5 906.7 L2341.2 903.1 L2359.9 891 L2378.7 888.7 L2397.4 886.8 L2416.1 885.5 L2434.8 887.8 L2453.6 883.5 L2472.3 881.2 L2491 877.3 L2509.7 869.8 L2528.5 867.2 L2547.2 870.8 L2565.9 864.9 L2584.6 860 L2603.4 860.6 L2622.1 857.9 L2640.8 850.8 L2659.5 847.6 L2678.3 849.2 L2697 848.5 L2715.7 845.9 L2734.4 848.2 L2753.2 840 L2771.9 841 L2790.6 841 L2809.3 845.3 L2828.1 842 L2846.8 839.4 L2865.5 839.4 L2884.2 828 L2903 820.8 L2921.7 820.8 L2940.4 816.5 L2959.1 813.2 L2977.9 808.5 L2996.6 811.5 L3015.3 811 L3034 810.4 L3052.8 801.3 L3071.5 794 L3090.2 789.9 L3108.9 782.3 L3127.7 791.7 L3146.4 784.4 L3165.1 780.1 L3183.8 789.4 L3202.6 783.4 L3221.3 790.9 L3240 797.7" stroke="#808080" stroke-width="4.17"/>
<path d="M450 1075.9 L468.7 1076.6 L487.4 1078.5 L506.2 1081.8 L524.9 1079.8 L543.6 1079.2 L562.3 1082.4 L581.1 1084.1 L599.8 1084.7 L618.5 1085.7 L637.2 1090.6 L656 1090.6 L674.7 1087.3 L693.4 1080.8 L712.1 1079.2 L730.9 1085.7 L749.6 1080.8 L768.3 1072.7 L787 1067.1 L805.8 1070.4 L824.5 1072 L843.2 1073.6 L861.9 1079.2 L880.7 1078.2 L899.4 1077.6 L918.1 1074.9 L936.8 1074.9 L955.6 1074.3 L974.3 1069.4 L993 1068.2 L1011.7 1066.1 L1030.5 1066.1 L1049.2 1061.9 L1067.9 1060.6 L1086.6 1062.9 L1105.4 1061.9 L1124.1 1058.6 L1142.8 1060.7 L1161.5 1058.9 L1180.3 1058 L1199 1062.5 L1217.7 1066.7 L1236.4 1075.9 L1255.2 1076.9 L1273.9 1077.6 L1292.6 1078.2 L1311.3 1078.5 L1330.1 1084.1 L1348.8 1085.7 L1367.5 1092.9 L1386.2 1089.3 L1405 1098.1 L1423.7 1100.4 L1442.4 1106.3 L1461.1 1111.8 L1479.9 1115.8 L1498.6 1123.3 L1517.3 1116.8 L1536 1114.2 L1554.8 1112 L1573.5 1107.8 L1592.2 1101.2 L1610.9 1102.9 L1629.7 1090.8 L1648.4 1087.2 L1667.1 1079 L1685.8 1082.3 L1704.6 1080 L1723.3 1075.8 L1742 1072.5 L1760.7 1067.6 L1779.5 1059.4 L1798.2 1043.1 L1816.9 1038.2 L1835.6 1029.4 L1854.4 1022.9 L1873.1 1025.5 L1891.8 1012.4 L1910.5 1006.5 L1929.3 1004.2 L1948 1009.8 L1966.7 1004.2 L1985.4 997.7 L2004.2 988.6 L2022.9 986 L2041.6 983.7 L2060.3 982.6 L2079.1 979.3 L2097.8 969.4 L2116.5 966.8 L2135.2 963.5 L2154 958 L2172.7 959.6 L2191.4 950.4 L2210.1 956.3 L2228.9 960.2 L2247.6 960.6 L2266.3 955.7 L2285 958 L2303.8 961.9 L2322.5 962.9 L2341.2 967.8 L2359.9 968.7 L2378.7 965.1 L2397.4 961.9 L2416.1 966.1 L2434.8 961.9 L2453.6 958.6 L2472.3 962.2 L2491 958.9 L2509.7 954 L2528.5 957.3 L2547.2 957.3 L2565.9 956.3 L2584.6 953.1 L2603.4 949.1 L2622.1 944.4 L2640.8 939.6 L2659.5 939 L2678.3 943.2 L2697 943.2 L2715.7 940.6 L2734.4 950.4 L2753.2 944.9 L2771.9 937.3 L2790.6 936.7 L2809.3 934.1 L2828.1 938 L2846.8 936.4 L2865.5 929.2 L2884.2 923.6 L2903 920.4 L2921.7 916.1 L2940.4 918.7 L2959.1 920.4 L2977.9 920.2 L2996.6 918.2 L3015.3 917.7 L3034 914.4 L3052.8 913.5 L3071.5 915.9 L3090.2 904.5 L3108.9 908.8 L3127.7 905.1 L3146.4 911 L3165.1 914.1 L3183.8 919.4 L3202.6 923.7 L3221.3 925.1 L3240 917.1" stroke="#000" stroke-width="8.33"/>
<path d="M730.9 1056.3 L749.6 1049.8 L768.3 1051.4 L787 1058.9 L805.8 1062.9 L824.5 1058.6 L843.2 1058 L861.9 1065.5 L880.7 1067.8 L899.4 1063.8 L918.1 1059.6 L936.8 1061.2 L955.6 1074.3 L974.3 1076.9 L993 1080.3 L1011.7 1075.3 L1030.5 1076.9 L1049.2 1085.7 L1067.9 1086.4 L1086.6 1080.8 L1105.4 1077.6 L1124.1 1079.8 L1142.8 1078.5 L1161.5 1082.4 L1180.3 1080.2 L1199 1079.2 L1217.7 1083.1 L1236.4 1087.3 L1255.2 1084.1 L1273.9 1079.8 L1292.6 1079.8 L1311.3 1084.1 L1330.1 1078.6 L1348.8 1072.3 L1367.5 1069.8 L1386.2 1074 L1405 1075.3 L1423.7 1075.6 L1442.4 1075.9 L1461.1 1076.2 L1479.9 1076.6 L1498.6 1074.9 L1517.3 1050.2 L1536 1045.6 L1554.8 1038.5 L1573.5 1030.4 L1592.2 1022.2 L1610.9 1013.1 L1629.7 1008.2" stroke="#008000" stroke-width="12.5"/>
</g>
<g stroke="#000" stroke-width="2" fill="none">
<path d="M619 1838 V210.0" stroke-dasharray="4.17 12.5"/>
<path d="M619 1838 v-17 M619 210 v17"/>
<path d="M993 1838 V210.0" stroke-dasharray="4.17 12.5"/>
<path d="M993 1838 v-17 M993 210 v17"/>
<path d="M1368 1838 V210.0" stroke-dasharray="4.17 12.5"/>
<path d="M1368 1838 v-17 M1368 210 v17"/>
<path d="M1742 1838 V210.0" stroke-dasharray="4.17 12.5"/>
<path d="M1742 1838 v-17 M1742 210 v17"/>
<path d="M2117 1838 V210.0" stroke-dasharray="4.17 12.5"/>
<path d="M2117 1838 v-17 M2117 210 v17"/>
<path d="M2491 1838 V210.0" stroke-dasharray="4.17 12.5"/>
<path d="M2491 1838 v-17 M2491 210 v17"/>
<path d="M2866 1838 V210.0" stroke-dasharray="4.17 12.5"/>
<path d="M2866 1838 v-17 M2866 210 v17"/>
<path d="M450.0 1431 H3240.0" stroke-dasharray="4.17 12.5"/>
<path d="M450 1431 h17 M3240 1431 h-17"/>
<path d="M450.0 1024 H3240.0" stroke-dasharray="4.17 12.5"/>
<path d="M450 1024 h17 M3240 1024 h-17"/>
<path d="M450.0 617 H3240.0" stroke-dasharray="4.17 12.5"/>
<path d="M450 617 h17 M3240 617 h-17"/>
</g>
<rect x="450" y="210" width="2790" height="1628" fill="none" stroke="#000" stroke-width="4"/>
<g font-family="'Liberation Serif', 'DejaVu Serif', serif" fill="#000">
<g font-size="58.33" text-anchor="middle">
<text x="618.5" y="1895.5">1960</text>
<text x="993" y="1895.5">1980</text>
<text x="1367.5" y="1895.5">2000</text>
<text x="1742" y="1895.5">2020</text>
<text x="2116.5" y="1895.5">2040</text>
<text x="2491" y="1895.5">2060</text>
<text x="2865.5" y="1895.5">2080</text>
<text x="3240" y="1895.5">2100</text>
<text x="1845" y="1967.8">Gads</text>
</g>
<g font-size="58.33" text-anchor="end">
<text x="433" y="1853.5">200</text>
<text x="433" y="1446.6">250</text>
<text x="433" y="1039.8">300</text>
<text x="433" y="632.9">350</text>
<text x="433" y="226">400</text>
</g>
<text x="1845" y="189" font-size="70.0" text-anchor="middle">Zosēni.Nov</text>
<g transform="translate(306.5 1633) rotate(-90)">
<text font-size="58.33">Garo viļņu radiācija uz horizontālas virsmas,</text>
<text transform="translate(1059 0) scale(1.08 1)" font-style="italic" font-size="63">W</text>
<text transform="translate(1118 13)" font-size="84">/</text>
<text transform="translate(1143.5 0) scale(1.12 1)" font-style="italic" font-size="63">m</text>
<text transform="translate(1199 -23)" font-size="40">2</text>
</g>
<rect x="2615" y="245" width="590" height="417" fill="#fff" stroke="#000" stroke-width="4"/>
<g stroke-linecap="square" fill="none">
<path d="M2664 298 H2762" stroke="#808080" stroke-width="4"/>
<path d="M2664 397 H2762" stroke="#808080" stroke-width="4"/>
<path d="M2664 496 H2762" stroke="#000" stroke-width="8.33"/>
<path d="M2664 595.3 H2762" stroke="#008000" stroke-width="12.5"/>
</g>
<g font-size="70.0">
<text x="2839" y="321.4">13%</text>
<text x="2839" y="420.6">87%</text>
<text x="2839" y="520.6">Mediāna</text>
<text x="2839" y="619.4">Novērojumi</text>
</g>
</g>
</svg>
</body></html>
